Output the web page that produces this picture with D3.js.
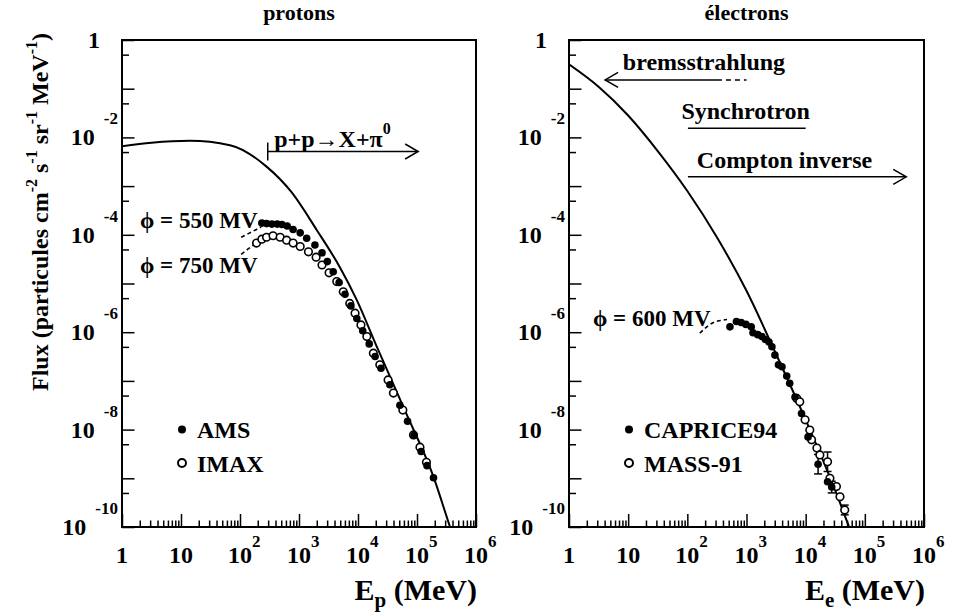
<!DOCTYPE html>
<html>
<head>
<meta charset="utf-8">
<script src="https://cdn.jsdelivr.net/npm/d3@7"></script>
<style>
    body { margin: 0; background: #fff; }
    svg text { font-family: "Liberation Serif", "Times New Roman", serif; font-weight: bold; fill: #000; }
</style>
</head>
<body>
<div id="chart"></div>
<script>
/* * * * * * * * * * * * * *
*         Data             *
* * * * * * * * * * * * * */

// all values are log10(E / MeV) and log10(flux)
const xTickExps = [0, 1, 2, 3, 4, 5, 6];
const yLabelExps = [0, -2, -4, -6, -8, -10];
const minorMult = [2, 3, 4, 5, 6, 7, 8, 9];

// protons - interstellar spectrum
const protonLisLogE = [0, 0.5, 1.15, 1.83, 2.45, 2.87, 3.30, 3.69, 3.98, 4.32, 4.80, 5.28, 5.56, 5.70];
const protonLisLogF = [-2.18, -2.11, -2.07, -2.16, -2.60, -3.12, -3.90, -4.66, -5.34, -6.30, -7.62, -8.97, -10.0, -10.5];

// modulated spectra (dashed)
const p550LogE = [2.02, 2.15, 2.28, 2.36];
const p550LogF = [-4.05, -3.97, -3.89, -3.84];
const p750LogE = [2.02, 2.15, 2.28];
const p750LogF = [-4.40, -4.28, -4.17];

// AMS (filled)
const amsLogE = [2.37, 2.45, 2.54, 2.63, 2.71, 2.80, 2.90, 3.02, 3.13, 3.27, 3.39, 3.48, 3.58, 3.68, 3.78, 3.88, 3.98, 4.08, 4.19, 4.29, 4.39, 4.54, 4.71, 4.84, 4.95, 5.07, 5.17, 5.28];
const amsLogF = [-3.76, -3.77, -3.78, -3.78, -3.79, -3.82, -3.89, -3.96, -4.07, -4.21, -4.37, -4.55, -4.76, -4.98, -5.22, -5.46, -5.72, -5.97, -6.24, -6.50, -6.74, -7.08, -7.50, -7.83, -8.12, -8.45, -8.74, -8.99];

// IMAX (open)
const imaxLogE = [2.28, 2.37, 2.45, 2.56, 2.68, 2.79, 2.90, 3.02, 3.16, 3.29, 3.39, 3.51, 3.64, 3.75, 3.86, 3.95, 4.05, 4.15, 4.26, 4.37, 4.51, 4.60, 4.76, 4.94, 5.05, 5.16];
const imaxLogF = [-4.17, -4.09, -4.05, -4.02, -4.05, -4.11, -4.17, -4.24, -4.35, -4.46, -4.62, -4.78, -4.96, -5.17, -5.41, -5.61, -5.85, -6.09, -6.43, -6.67, -6.98, -7.25, -7.60, -8.11, -8.36, -8.67];

// electrons - interstellar spectrum
const electronLisLogE = [0, 0.5, 1, 1.5, 2, 2.5, 3, 3.5, 4, 4.5, 4.75, 5];
const electronLisLogF = [-0.50, -0.96, -1.55, -2.28, -3.10, -4.05, -5.15, -6.45, -7.80, -9.25, -10.05, -10.8];

const e600LogE = [2.21, 2.33, 2.44, 2.56, 2.67];
const e600LogF = [-6.02, -5.89, -5.80, -5.76, -5.74];

// CAPRICE94 (filled)
const capriceLogE = [2.72, 2.83, 2.91, 2.99, 3.08, 3.11, 3.19, 3.26, 3.32, 3.38, 3.43, 3.48, 3.54, 3.60, 3.68, 3.73, 3.82, 3.93, 4.04, 4.21, 4.37, 4.44];
const capriceLogF = [-5.89, -5.78, -5.80, -5.84, -5.89, -6.01, -6.05, -6.09, -6.15, -6.20, -6.30, -6.47, -6.67, -6.71, -6.90, -7.05, -7.33, -7.67, -8.15, -8.71, -9.07, -9.18];
const capriceErr = [0, 0, 0, 0, 0, 0, 0, 0, 0, 0, 0, 0, 0, 0, 0, 0, 0, 0, 0, 0.2, 0, 0.12];

// MASS-91 (open)
const massLogE = [3.85, 3.90, 3.99, 4.07, 4.10, 4.19, 4.24, 4.37, 4.41, 4.52, 4.58, 4.66];
const massLogF = [-7.36, -7.43, -7.80, -8.01, -8.21, -8.38, -8.52, -8.66, -9.00, -9.17, -9.38, -9.65];
const massErr = [0, 0, 0, 0, 0, 0, 0, 0.2, 0, 0, 0, 0.1];

const zip = (xs, ys, es) => xs.map((v, i) => ({e: v, f: ys[i], err: es ? es[i] : 0}));

/* * * * * * * * * * * * * *
*        FluxPanel         *
* * * * * * * * * * * * * */

class FluxPanel {
    constructor(svg, config) {
        this.svg = svg;
        this.config = config;

        this.initVis();
    }

    initVis() {
        let vis = this;
        let c = vis.config;

        vis.x = d3.scaleLog().domain([1, 1e6]).range([c.left, c.right]);
        vis.y = d3.scaleLog().domain([1e-10, 1]).range([c.bottom, c.top]);
        vis.px = d => vis.x(Math.pow(10, d.e));
        vis.py = d => vis.y(Math.pow(10, d.f));

        vis.g = vis.svg.append("g");

        vis.g.append("clipPath").attr("id", c.id + "-clip")
            .append("rect")
            .attr("x", c.left).attr("y", c.top)
            .attr("width", c.right - c.left).attr("height", c.bottom - c.top);

        // ticks (inside, left + bottom only)
        const xMajor = xTickExps.map(p => Math.pow(10, p));
        const xMinor = [];
        xTickExps.slice(0, -1).forEach(p => minorMult.forEach(m => xMinor.push(m * Math.pow(10, p))));
        const yMajor = d3.range(-10, 1).map(p => Math.pow(10, p));
        const yMinor = d3.range(-10, 0).map(p => 5 * Math.pow(10, p));

        const tick = (axis, values, size, transform) => {
            vis.g.append("g")
                .attr("transform", transform)
                .call(axis.tickValues(values).tickSize(size).tickFormat(""))
                .call(g => g.select(".domain").remove())
                .call(g => g.selectAll("line").attr("stroke-width", 1.5));
        };
        tick(d3.axisBottom(vis.x), xMajor, -13, `translate(0,${c.bottom})`);
        tick(d3.axisBottom(vis.x), xMinor, -6.5, `translate(0,${c.bottom})`);
        tick(d3.axisLeft(vis.y), yMajor, -12.5, `translate(${c.left},0)`);
        tick(d3.axisLeft(vis.y), yMinor, -7, `translate(${c.left},0)`);

        // frame
        vis.g.append("rect")
            .attr("x", c.left).attr("y", c.top)
            .attr("width", c.right - c.left).attr("height", c.bottom - c.top)
            .attr("fill", "none").attr("stroke", "#000").attr("stroke-width", 2);

        // x tick labels
        xTickExps.forEach(p => {
            const xx = vis.x(Math.pow(10, p));
            vis.g.append("text")
                .attr("x", xx).attr("y", c.bottom + 36)
                .attr("text-anchor", "middle").attr("font-size", 24)
                .text(p === 0 ? "1" : "10");
            if (p > 1) {
                vis.g.append("text")
                    .attr("x", xx + 12).attr("y", c.bottom + 20)
                    .attr("font-size", 17)
                    .text(p);
            }
        });

        // y tick labels
        yLabelExps.forEach(p => {
            const yy = vis.y(Math.pow(10, p));
            if (p === 0) {
                vis.g.append("text")
                    .attr("x", c.left - 22).attr("y", yy + 8)
                    .attr("text-anchor", "end").attr("font-size", 24)
                    .text("1");
            } else {
                let t = vis.g.append("text")
                    .attr("x", c.left - 4).attr("y", yy + 8)
                    .attr("text-anchor", "end").attr("font-size", 24);
                t.append("tspan").text("10");
                t.append("tspan").attr("dx", 9).attr("dy", -21).attr("font-size", 17).text(p);
            }
        });

        // title
        vis.g.append("text")
            .attr("x", (c.left + c.right) / 2).attr("y", 20)
            .attr("text-anchor", "middle").attr("font-size", 22)
            .text(c.title);

        // x axis title
        let xt = vis.g.append("text")
            .attr("x", c.right + 1).attr("y", 600)
            .attr("text-anchor", "end").attr("font-size", 30);
        xt.append("tspan").text("E");
        xt.append("tspan").attr("dy", 7).attr("font-size", 21).text(c.sub);
        xt.append("tspan").attr("dy", -7).text(" (MeV)");

        vis.updateVis();
    }

    updateVis() {
        let vis = this;
        let c = vis.config;

        const line = d3.line().x(vis.px).y(vis.py).curve(d3.curveMonotoneX);
        const plot = vis.g.append("g").attr("clip-path", `url(#${c.id}-clip)`);

        // interstellar spectrum
        plot.append("path")
            .attr("d", line(c.lis))
            .attr("fill", "none").attr("stroke", "#000").attr("stroke-width", 2);

        // modulated spectra
        c.dashed.forEach(d => {
            plot.append("path")
                .attr("d", line(d))
                .attr("fill", "none").attr("stroke", "#000")
                .attr("stroke-width", 1.6).attr("stroke-dasharray", "4,3");
        });

        // error bars
        const errData = c.filled.concat(c.open).filter(d => d.err > 0);
        errData.forEach(d => {
            const xx = vis.px(d), y1 = vis.y(Math.pow(10, d.f + d.err)), y2 = vis.y(Math.pow(10, d.f - d.err));
            plot.append("line").attr("x1", xx).attr("x2", xx).attr("y1", y1).attr("y2", y2)
                .attr("stroke", "#000").attr("stroke-width", 1.5);
            [y1, y2].forEach(yy => plot.append("line")
                .attr("x1", xx - 4).attr("x2", xx + 4).attr("y1", yy).attr("y2", yy)
                .attr("stroke", "#000").attr("stroke-width", 1.5));
        });

        // open markers
        plot.selectAll(".open")
            .data(c.open)
            .enter().append("circle")
            .attr("class", "open")
            .attr("cx", vis.px).attr("cy", vis.py)
            .attr("r", 3.8)
            .attr("fill", "#fff").attr("stroke", "#000").attr("stroke-width", 1.6);

        // filled markers
        plot.selectAll(".filled")
            .data(c.filled)
            .enter().append("circle")
            .attr("class", "filled")
            .attr("cx", vis.px).attr("cy", vis.py)
            .attr("r", 3.8)
            .attr("fill", "#000");

        // legend
        const lx = c.left + 60;
        vis.g.append("circle").attr("cx", lx).attr("cy", 429.5).attr("r", 4).attr("fill", "#000");
        vis.g.append("circle").attr("cx", lx).attr("cy", 463).attr("r", 4)
            .attr("fill", "#fff").attr("stroke", "#000").attr("stroke-width", 2);
        vis.g.append("text").attr("x", lx + 15).attr("y", 438).attr("font-size", 24).text(c.names[0]);
        vis.g.append("text").attr("x", lx + 15).attr("y", 472).attr("font-size", 24).text(c.names[1]);

        // phi labels
        c.phi.forEach(p => {
            vis.g.append("text").attr("x", p.x).attr("y", p.y).attr("font-size", 23).text(p.text);
        });
    }
}

/* * * * * * * * * * * * * *
*          Main            *
* * * * * * * * * * * * * */

const svg = d3.select("#chart").append("svg")
    .attr("width", 958)
    .attr("height", 615);

svg.append("rect").attr("width", 958).attr("height", 615).attr("fill", "#fff");

const protonPanel = new FluxPanel(svg, {
    id: "protons", title: "protons", sub: "p",
    left: 122, right: 476, top: 40, bottom: 527,
    lis: zip(protonLisLogE, protonLisLogF),
    dashed: [zip(p550LogE, p550LogF), zip(p750LogE, p750LogF)],
    filled: zip(amsLogE, amsLogF),
    open: zip(imaxLogE, imaxLogF),
    names: ["AMS", "IMAX"],
    phi: [{text: "\u03d5 = 550 MV", x: 140, y: 228}, {text: "\u03d5 = 750 MV", x: 140, y: 273}]
});

const electronPanel = new FluxPanel(svg, {
    id: "electrons", title: "électrons", sub: "e",
    left: 569, right: 924, top: 40, bottom: 527,
    lis: zip(electronLisLogE, electronLisLogF),
    dashed: [zip(e600LogE, e600LogF)],
    filled: zip(capriceLogE, capriceLogF, capriceErr),
    open: zip(massLogE, massLogF, massErr),
    names: ["CAPRICE94", "MASS-91"],
    phi: [{text: "\u03d5 = 600 MV", x: 593, y: 326}]
});

// y axis title
let yt = svg.append("text")
    .attr("transform", "translate(48,212) rotate(-90)")
    .attr("text-anchor", "middle").attr("font-size", 24);
yt.append("tspan").text("Flux (particules cm");
yt.append("tspan").attr("dy", -11).attr("font-size", 16).text("-2");
yt.append("tspan").attr("dy", 11).text(" s");
yt.append("tspan").attr("dy", -11).attr("font-size", 16).text("-1");
yt.append("tspan").attr("dy", 11).text(" sr");
yt.append("tspan").attr("dy", -11).attr("font-size", 16).text("-1");
yt.append("tspan").attr("dy", 11).text(" MeV");
yt.append("tspan").attr("dy", -11).attr("font-size", 16).text("-1");
yt.append("tspan").attr("dy", 11).text(")");

// annotations: p+p -> X + pi0 (left)
const px = protonPanel.x, py = protonPanel.y;
let pp = svg.append("text")
    .attr("x", px(Math.pow(10, 2.58))).attr("y", py(Math.pow(10, -2.19)))
    .attr("font-size", 24);
pp.append("tspan").text("p+p\u2192X+\u03c0");
pp.append("tspan").attr("dy", -13).attr("font-size", 16).text("0");

const arrow = (g, x1, x2, yy, dir) => {
    g.append("line").attr("x1", x1).attr("x2", x2).attr("y1", yy).attr("y2", yy)
        .attr("stroke", "#000").attr("stroke-width", 1.5);
    const tip = dir > 0 ? x2 : x1;
    g.append("path")
        .attr("d", `M${tip - dir * 13},${yy - 7.5}L${tip},${yy}L${tip - dir * 13},${yy + 7.5}`)
        .attr("fill", "none").attr("stroke", "#000").attr("stroke-width", 1.5);
};

const ppY = py(Math.pow(10, -2.29));
const ppX1 = px(Math.pow(10, 2.47));
arrow(svg, ppX1, px(Math.pow(10, 5.02)), ppY, 1);
svg.append("line").attr("x1", ppX1).attr("x2", ppX1).attr("y1", ppY - 9).attr("y2", ppY + 9)
    .attr("stroke", "#000").attr("stroke-width", 1.5);

// annotations (right)
const ex = electronPanel.x, ey = electronPanel.y;

svg.append("text").attr("x", ex(Math.pow(10, 0.91))).attr("y", ey(Math.pow(10, -0.62)))
    .attr("font-size", 24).text("bremsstrahlung");
const bY = ey(Math.pow(10, -0.82));
arrow(svg, ex(Math.pow(10, 0.61)), ex(Math.pow(10, 2.5)), bY, -1);
svg.append("line").attr("x1", ex(Math.pow(10, 2.5))).attr("x2", ex(Math.pow(10, 3.0)))
    .attr("y1", bY).attr("y2", bY)
    .attr("stroke", "#000").attr("stroke-width", 1.5).attr("stroke-dasharray", "5,4");

svg.append("text").attr("x", ex(Math.pow(10, 1.90))).attr("y", ey(Math.pow(10, -1.63)))
    .attr("font-size", 24).text("Synchrotron");
const sY = ey(Math.pow(10, -1.81));
svg.append("line").attr("x1", ex(Math.pow(10, 2.01))).attr("x2", ex(Math.pow(10, 4.0)))
    .attr("y1", sY).attr("y2", sY).attr("stroke", "#000").attr("stroke-width", 1.5);

svg.append("text").attr("x", ex(Math.pow(10, 2.16))).attr("y", ey(Math.pow(10, -2.63)))
    .attr("font-size", 24).text("Compton inverse");
arrow(svg, ex(Math.pow(10, 2.01)), ex(Math.pow(10, 5.70)), ey(Math.pow(10, -2.81)), 1);
</script>
</body>
</html>
